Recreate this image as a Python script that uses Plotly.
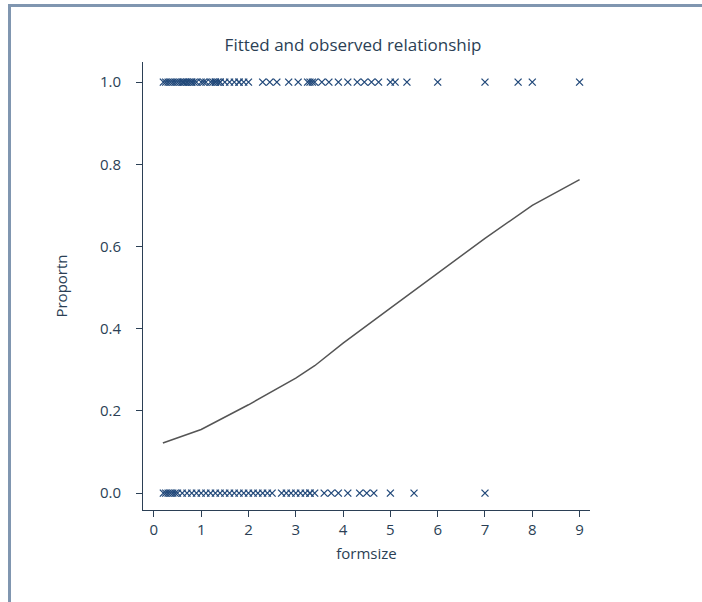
import plotly.graph_objects as go

# observed formsize values, outcome = 1
formsize_y1 = [0.2, 0.25, 0.3, 0.35, 0.4, 0.45, 0.5, 0.55, 0.6, 0.62, 0.65, 0.7, 0.7, 0.75,
               0.8, 0.8, 0.85, 0.9, 1.0, 1.05, 1.1, 1.2, 1.25, 1.3, 1.3, 1.35, 1.4, 1.4, 1.5,
               1.6, 1.7, 1.8, 1.8, 1.9, 2.0, 2.3, 2.45, 2.6, 2.85, 3.05, 3.25, 3.3, 3.35, 3.4,
               3.55, 3.7, 3.9, 4.1, 4.3, 4.45, 4.6, 4.75, 5.0, 5.1, 5.35, 6.0, 7.0, 7.7, 8.0, 9.0]
# observed formsize values, outcome = 0
formsize_y0 = [0.2, 0.25, 0.3, 0.35, 0.4, 0.45, 0.5, 0.6, 0.7, 0.8, 0.9, 1.0, 1.1, 1.2, 1.3,
               1.4, 1.5, 1.6, 1.7, 1.8, 1.9, 2.0, 2.1, 2.2, 2.3, 2.4, 2.5, 2.7, 2.8, 2.9, 3.0,
               3.1, 3.2, 3.3, 3.3, 3.4, 3.6, 3.75, 3.9, 4.1, 4.35, 4.5, 4.65, 5.0, 5.5, 7.0]

# fitted curve
fit_x = [0.19, 1.0, 2.0, 3.0, 3.4, 4.0, 5.0, 6.0, 7.0, 8.0, 9.0]
fit_y = [0.122, 0.155, 0.215, 0.28, 0.31, 0.365, 0.45, 0.535, 0.62, 0.70, 0.763]

x_ticks = [0, 1, 2, 3, 4, 5, 6, 7, 8, 9]
y_ticks = [0.0, 0.2, 0.4, 0.6, 0.8, 1.0]
y_ticklabels = ["0.0", "0.2", "0.4", "0.6", "0.8", "1.0"]

TXT = "#2b3f55"
MK = "#22497a"
FONT = "Open Sans"

mk = dict(symbol="x-thin-open", size=7, color=MK, line=dict(width=1.3, color=MK))

fig = go.Figure()
fig.add_trace(go.Scatter(x=formsize_y1, y=[1.0] * len(formsize_y1), mode="markers",
                         marker=mk, showlegend=False))
fig.add_trace(go.Scatter(x=formsize_y0, y=[0.0] * len(formsize_y0), mode="markers",
                         marker=mk, showlegend=False))
fig.add_trace(go.Scatter(x=fit_x, y=fit_y, mode="lines",
                         line=dict(color="#555555", width=1.5), showlegend=False))

W, H = 702, 602
L, T = 143, 62
R = W - 590
B = H - 510
pw, ph = W - L - R, H - T - B

fig.add_shape(type="rect", xref="paper", yref="paper",
              x0=(9.5 - L) / pw, x1=(760 - L) / pw,
              y0=-(680 - T - ph) / ph, y1=1 + (T - 5.5) / ph,
              line=dict(color="#8096b0", width=3), fillcolor="rgba(0,0,0,0)", layer="below")

fig.update_layout(
    width=W, height=H,
    margin=dict(l=L, r=R, t=T, b=B),
    paper_bgcolor="white", plot_bgcolor="white",
    font=dict(family=FONT, color=TXT, size=14),
    title=dict(text="Fitted and observed relationship", x=353 / W, xanchor="center",
               y=1 - 45 / H, yanchor="middle", font=dict(size=17, color=TXT, family=FONT)),
    xaxis=dict(range=[-0.23, 9.22], tickvals=x_ticks, ticks="outside", ticklen=6,
               tickcolor=TXT, showline=True, linecolor=TXT, linewidth=1, showgrid=False,
               zeroline=False, title=dict(text="formsize", standoff=10, font=dict(size=15)),
               tickfont=dict(size=15)),
    yaxis=dict(range=[-0.041, 1.049], tickvals=y_ticks, ticktext=y_ticklabels, ticks="outside",
               ticklen=6, tickcolor=TXT, showline=True, linecolor=TXT, linewidth=1,
               showgrid=False, zeroline=False, ticklabelstandoff=12,
               title=dict(text="Proportn", standoff=28, font=dict(size=15)),
               tickfont=dict(size=15)),
)

fig.write_html("out.html", config={"displayModeBar": False},
               post_script="document.body.style.margin='0px';")
